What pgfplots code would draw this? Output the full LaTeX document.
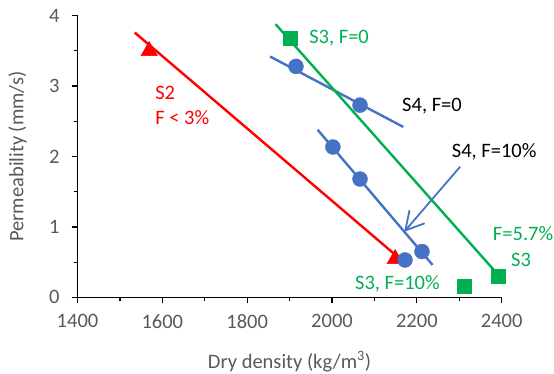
\documentclass[border=0pt]{standalone}
\usepackage{pgfplots}
\pgfplotsset{compat=1.18}
\usepackage{fontspec}
\setmainfont{Carlito}
\usetikzlibrary{arrows.meta}
\definecolor{tgray}{HTML}{595959}
\definecolor{sblue}{HTML}{4472C4}
\definecolor{sgreen}{HTML}{00B050}
\begin{document}
\fontsize{20.5bp}{24bp}\selectfont
\begin{tikzpicture}
\path[use as bounding box] (-77.5bp,-76.7bp) rectangle (476.5bp,297.3bp);
\begin{axis}[
  scale only axis, width=424.2bp, height=281.6bp,
  xmin=1400, xmax=2400, ymin=0, ymax=4,
  clip=false,
  axis x line*=bottom, axis y line*=left,
  xtick={1400,1600,...,2400}, ytick={0,1,2,3,4},
  minor x tick num=1, minor y tick num=1,
  tick align=outside, major tick length=6bp, minor tick length=4bp,
  every tick/.style={black, line width=1.2bp},
  axis line style={black, line width=1.5bp},
  tick label style={text=tgray, /pgf/number format/assume math mode=true, /pgf/number format/1000 sep={}},
  xticklabel style={yshift=-4bp},
  yticklabel style={xshift=-5bp},
  label style={text=tgray},
  xlabel={Dry density (kg/m\textsuperscript{3})},
  ylabel={Permeability (mm/s)},
  xlabel style={at={(axis description cs:0.5,-0.2287)}, anchor=center},
  ylabel style={at={(axis description cs:-0.1415,0.5)}, anchor=center},
]
% markers
\addplot[only marks, mark=triangle*, mark size=9.5bp, color=red] coordinates {(1569,3.50) (2149,0.545)};
\addplot[only marks, mark=*, mark size=7.5bp, color=sblue] coordinates {(1915,3.28) (2066,2.73)};
\addplot[only marks, mark=*, mark size=7.5bp, color=sblue] coordinates {(2002,2.135) (2066,1.68) (2172,0.53) (2212,0.65)};
\addplot[only marks, mark=square*, mark size=6.7bp, color=sgreen] coordinates {(1901,3.68) (2392,0.30) (2312,0.16)};
% trend lines
\addplot[red, line width=2.4bp, no marks] coordinates {(1535,3.76) (2180,0.445)};
\addplot[sblue, line width=2.4bp, no marks] coordinates {(1854,3.42) (2168,2.42)};
\addplot[sblue, line width=2.4bp, no marks] coordinates {(1966,2.38) (2237,0.46)};
\addplot[sgreen, line width=2.4bp, no marks] coordinates {(1867,3.88) (2396,0.29)};
% arrow
\addplot[sblue, line width=1.8bp, no marks, -{Straight Barb[length=18bp, width=20bp]}] coordinates {(2302,1.855) (2170,0.93)};
% labels
\node[anchor=west, inner sep=0, text=red] at (axis cs:1583,2.90) {S2};
\node[anchor=west, inner sep=0, text=red] at (axis cs:1583,2.55) {F < 3\%};
\node[anchor=west, inner sep=0, text=sgreen] at (axis cs:1946,3.68) {S3, F=0};
\node[anchor=west, inner sep=0, text=black] at (axis cs:2165,2.71) {S4, F=0};
\node[anchor=west, inner sep=0, text=black] at (axis cs:2282,2.07) {S4, F=10\%};
\node[anchor=west, inner sep=0, text=sgreen] at (axis cs:2379,0.91) {F=5.7\%};
\node[anchor=west, inner sep=0, text=sgreen] at (axis cs:2422,0.53) {S3};
\node[anchor=west, inner sep=0, text=sgreen] at (axis cs:2054,0.185) {S3, F=10\%};
\end{axis}
\end{tikzpicture}
\end{document}
